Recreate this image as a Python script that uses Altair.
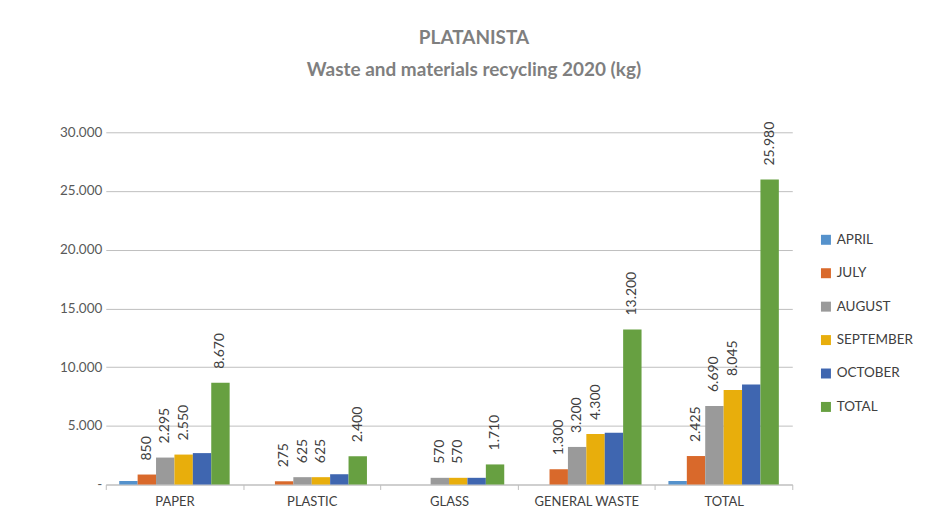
import altair as alt
import pandas as pd

categories = ["PAPER", "PLASTIC", "GLASS", "GENERAL WASTE", "TOTAL"]
months = ["APRIL", "JULY", "AUGUST", "SEPTEMBER", "OCTOBER", "TOTAL"]
values = {
    "APRIL":     [300, 0, 0, 0, 300],
    "JULY":      [850, 275, 0, 1300, 2425],
    "AUGUST":    [2295, 625, 570, 3200, 6690],
    "SEPTEMBER": [2550, 625, 570, 4300, 8045],
    "OCTOBER":   [2675, 875, 570, 4400, 8520],
    "TOTAL":     [8670, 2400, 1710, 13200, 25980],
}
labelled = ["JULY", "AUGUST", "SEPTEMBER", "TOTAL"]
colors = ["#5592CC", "#D9692B", "#9A9A9A", "#E8AE0C", "#3F66B0", "#67A041"]

rows = []
for m in months:
    for c, v in zip(categories, values[m]):
        lab = f"{v:,}".replace(",", ".") if (m in labelled and v > 0) else ""
        rows.append({"category": c, "month": m, "value": v, "label": lab})
df = pd.DataFrame(rows)

font = "Lato"

base = alt.Chart(df).encode(
    x=alt.X("category:N", sort=categories, title=None,
            scale=alt.Scale(paddingInner=0, paddingOuter=0),
            axis=alt.Axis(labelAngle=0, tickBand="extent", labelFontSize=13,
                          labelColor="#404040", labelFont=font, domainColor="#BFBFBF",
                          tickColor="#BFBFBF", tickSize=5, labelPadding=6, grid=False)),
    xOffset=alt.XOffset("month:N", sort=months, scale=alt.Scale(paddingOuter=0.73, paddingInner=0)),
    y=alt.Y("value:Q", title=None,
            scale=alt.Scale(domain=[0, 30000], nice=False),
            axis=alt.Axis(values=[0, 5000, 10000, 15000, 20000, 25000, 30000],
                          labelExpr="datum.value == 0 ? '-' : replace(format(datum.value, ','), ',', '.')",
                          labelFontSize=13.5, labelColor="#595959", labelFont=font,
                          domain=False, ticks=False, labelPadding=4,
                          gridColor="#BFBFBF", gridWidth=1)),
)

bars = base.mark_bar().encode(
    color=alt.Color("month:N", sort=months,
                    scale=alt.Scale(domain=months, range=colors),
                    legend=alt.Legend(title=None, orient="none", legendX=715, legendY=101,
                                      symbolType="square", symbolSize=100, symbolStrokeWidth=0,
                                      labelFontSize=13.5, labelColor="#404040", labelFont=font,
                                      rowPadding=18.5, labelOffset=4))
)

texts = base.mark_text(angle=270, align="left", baseline="middle", dx=14,
                       fontSize=14, color="#404040", font=font).encode(
    text="label:N"
)

chart = (bars + texts).properties(
    width=688, height=353,
    padding={"left": 51, "top": 20, "right": 5, "bottom": 5},
    title=alt.TitleParams(
        text=["PLATANISTA", "Waste and materials recycling 2020 (kg)"],
        fontSize=19, font=font, fontWeight="bold", color="#7F7F7F",
        lineHeight=32, anchor="middle", dx=25, offset=42,
    ),
).configure_view(stroke=None)

chart.save("out.html", embed_options={"renderer": "svg", "actions": False})
